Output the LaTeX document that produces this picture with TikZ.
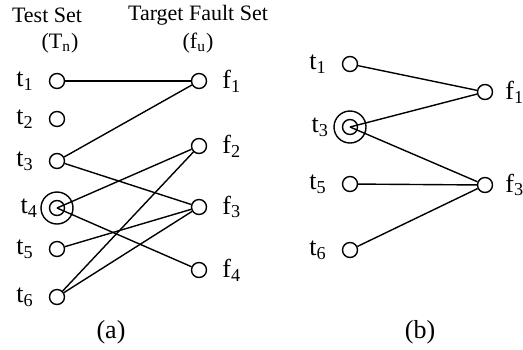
\documentclass[tikz,border=0pt]{standalone}
\usepackage{fontspec}
\setmainfont{Liberation Serif}
\usetikzlibrary{math,positioning}

\tikzset{
	vtx/.style={draw, circle, fill=white, minimum size=7.5pt, inner sep=0pt, line width=0.7pt},
	ringvtx/.style={draw, circle, minimum size=16pt, inner sep=0pt, line width=0.7pt},
	edge/.style={line width=0.7pt},
	vlbl/.style={inner sep=0pt, font=\fontsize{13}{15}\selectfont},
	hdr/.style={inner sep=0pt, font=\fontsize{11}{13}\selectfont},
}

\begin{document}
\begin{tikzpicture}[x=0.5pt, y=-0.5pt]
	% Constants
	\tikzmath{\tax = 57; \fax = 199; \tbx = 350; \fbx = 485; \lsep = 11.5;}
	\useasboundingbox (0,0) rectangle (523,349);

	% Panel (a)
	\begin{scope}
		% Headers
		\node[hdr] (a-hts) at (47,15) {Test Set};
		\node[hdr] (a-htn) at (60,43) {(T\textsubscript{n})};
		\node[hdr] (a-hfs) at (198,15) {Target Fault Set};
		\node[hdr] (a-hfu) at (198,43) {(f\textsubscript{u})};

		% Vertices
		\node[vtx] (a-t1) at (\tax,81) {};
		\node[vtx] (a-t2) at (\tax,119) {};
		\node[vtx] (a-t3) at (\tax,161) {};
		\node[vtx] (a-t4) at (\tax,208) {};
		\node[ringvtx] (a-t4r) at (\tax,208) {};
		\node[vtx] (a-t5) at (\tax,249) {};
		\node[vtx] (a-t6) at (\tax,297) {};
		\node[vtx] (a-f1) at (\fax,81) {};
		\node[vtx] (a-f2) at (\fax,146) {};
		\node[vtx] (a-f3) at (\fax,207) {};
		\node[vtx] (a-f4) at (\fax,270) {};

		% Labels
		\node[vlbl, left=\lsep pt of a-t1.center] (a-lt1) {t\textsubscript{1}};
		\node[vlbl, left=\lsep pt of a-t2.center] (a-lt2) {t\textsubscript{2}};
		\node[vlbl, left=\lsep pt of a-t3.center] (a-lt3) {t\textsubscript{3}};
		\node[vlbl, left=1pt of a-t4r] (a-lt4) {t\textsubscript{4}};
		\node[vlbl, left=\lsep pt of a-t5.center] (a-lt5) {t\textsubscript{5}};
		\node[vlbl, left=\lsep pt of a-t6.center] (a-lt6) {t\textsubscript{6}};
		\node[vlbl, right=\lsep pt of a-f1.center] (a-lf1) {f\textsubscript{1}};
		\node[vlbl, right=\lsep pt of a-f2.center] (a-lf2) {f\textsubscript{2}};
		\node[vlbl, right=\lsep pt of a-f3.center] (a-lf3) {f\textsubscript{3}};
		\node[vlbl, right=\lsep pt of a-f4.center] (a-lf4) {f\textsubscript{4}};

		% Edges
		\draw[edge] (a-t1) -- (a-f1);
		\draw[edge] (a-t3) -- (a-f1);
		\draw[edge] (a-t3) -- (a-f3);
		\draw[edge] (a-t4.center) -- (a-f2);
		\draw[edge] (a-t4.center) -- (a-f4);
		\draw[edge] (a-t5) -- (a-f3);
		\draw[edge] (a-t6) -- (a-f2);
		\draw[edge] (a-t6) -- (a-f3);

		\node[vlbl] (a-cap) at (111,332) {(a)};
	\end{scope}

	% Panel (b)
	\begin{scope}
		% Vertices
		\node[vtx] (b-t1) at (\tbx,64) {};
		\node[vtx] (b-t3) at (\tbx,127) {};
		\node[ringvtx] (b-t3r) at (\tbx,127) {};
		\node[vtx] (b-t5) at (\tbx,184) {};
		\node[vtx] (b-t6) at (\tbx,250) {};
		\node[vtx] (b-f1) at (\fbx,92) {};
		\node[vtx] (b-f3) at (\fbx,185) {};

		% Labels
		\node[vlbl, left=\lsep pt of b-t1.center] (b-lt1) {t\textsubscript{1}};
		\node[vlbl, left=2pt of b-t3r] (b-lt3) {t\textsubscript{3}};
		\node[vlbl, left=\lsep pt of b-t5.center] (b-lt5) {t\textsubscript{5}};
		\node[vlbl, left=\lsep pt of b-t6.center] (b-lt6) {t\textsubscript{6}};
		\node[vlbl, right=10pt of b-f1.center] (b-lf1) {f\textsubscript{1}};
		\node[vlbl, right=10pt of b-f3.center] (b-lf3) {f\textsubscript{3}};

		% Edges
		\draw[edge] (b-t1) -- (b-f1);
		\draw[edge] (b-t3.center) -- (b-f1);
		\draw[edge] (b-t3.center) -- (b-f3);
		\draw[edge] (b-t5) -- (b-f3);
		\draw[edge] (b-t6) -- (b-f3);

		\node[vlbl] (b-cap) at (420,332) {(b)};
	\end{scope}
\end{tikzpicture}
\end{document}
